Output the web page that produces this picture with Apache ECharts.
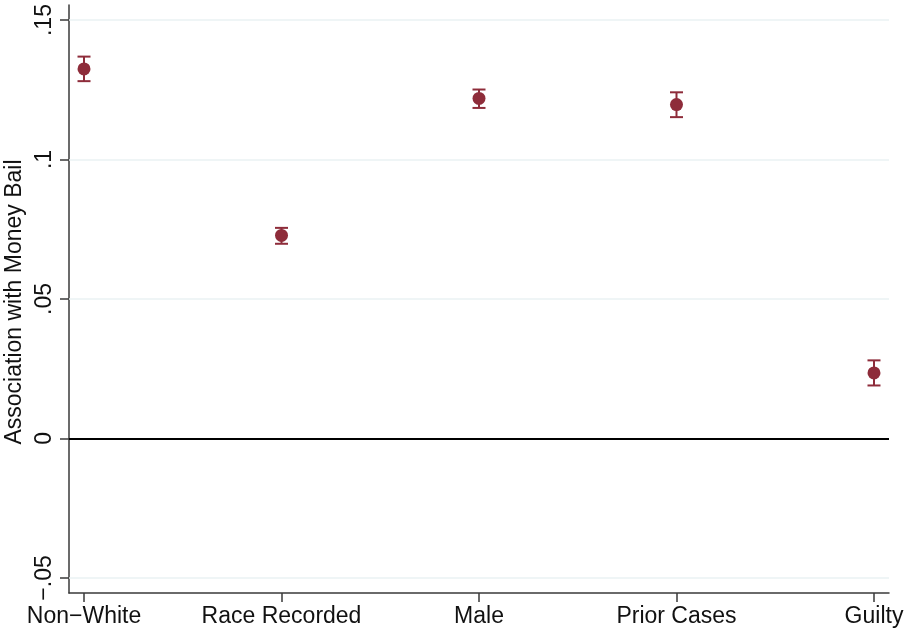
<!DOCTYPE html>
<html>
<head>
<meta charset="utf-8">
<script src="https://cdn.jsdelivr.net/npm/echarts@6/dist/echarts.min.js"></script>
<style>
  html, body { margin: 0; padding: 0; background: #fff; }
  #chart { width: 904px; height: 630px; }
</style>
</head>
<body>
<div id="chart"></div>
<script>
// Coefficients with 95% confidence intervals
const categories = ['Non\u2212White', 'Race Recorded', 'Male', 'Prior Cases', 'Guilty'];
const estimates = [0.1325, 0.0728, 0.1219, 0.1197, 0.0235];
const ciLower = [0.1281, 0.0698, 0.1185, 0.1152, 0.0190];
const ciUpper = [0.1369, 0.0755, 0.1251, 0.1241, 0.0280];
const yTicks = [-0.05, 0, 0.05, 0.1, 0.15];
const yTickLabels = ['\u2212.05', '0', '.05', '.1', '.15'];
const yTitle = 'Association with Money Bail';

const markColor = '#8E2C3A';
const axisColor = '#3a3a3a';
const gridColor = '#EAF2F3';
const font = '"Liberation Sans", Arial, Helvetica, sans-serif';

const xPos = categories.map((_, i) => i + 1);
const pointData = estimates.map((v, i) => [xPos[i], v]);
const ciData = estimates.map((_, i) => [xPos[i], ciLower[i], ciUpper[i]]);

const chart = echarts.init(document.getElementById('chart'), null, { renderer: 'canvas' });

chart.setOption({
  animation: false,
  backgroundColor: '#ffffff',
  grid: { left: 69, right: 15, top: 5, bottom: 37, containLabel: false, outerBoundsMode: 'none' },
  graphic: [{
    // vertical axis title
    type: 'text',
    x: 15,
    y: 302,
    rotation: Math.PI / 2,
    style: {
      text: yTitle,
      fill: '#111',
      font: '23px ' + font,
      align: 'center',
      verticalAlign: 'middle'
    }
  }],
  xAxis: {
    type: 'value',
    min: 0.924,
    max: 5.076,
    axisLine: { show: true, onZero: false, lineStyle: { color: axisColor, width: 1.5 } },
    axisTick: { show: true, length: 9, customValues: xPos, lineStyle: { color: axisColor, width: 1.5 } },
    axisLabel: {
      customValues: xPos,
      formatter: v => categories[Math.round(v) - 1] || '',
      color: '#111', fontSize: 23, fontFamily: font, margin: 12
    },
    splitLine: { show: false }
  },
  yAxis: {
    type: 'value',
    min: -0.0554,
    max: 0.1554,
    axisLine: { show: true, onZero: false, lineStyle: { color: axisColor, width: 1.5 } },
    axisTick: { show: true, length: 9, customValues: yTicks, lineStyle: { color: axisColor, width: 1.5 } },
    axisLabel: {
      customValues: yTicks,
      rotate: 90,
      formatter: v => {
        const k = yTicks.findIndex(t => Math.abs(t - v) < 1e-9);
        return k >= 0 ? yTickLabels[k] : '';
      },
      color: '#111', fontSize: 23, fontFamily: font, margin: 13
    },
    splitLine: { show: false }
  },
  series: [
    {
      // horizontal reference lines: light grid plus zero line
      type: 'line',
      data: [],
      silent: true,
      markLine: {
        symbol: 'none',
        silent: true,
        label: { show: false },
        data: yTicks.filter(t => t !== 0).map(t => ({ yAxis: t, lineStyle: { color: gridColor, width: 1.5, type: 'solid' } }))
          .concat([{ yAxis: 0, lineStyle: { color: '#000', width: 2, type: 'solid' } }])
      }
    },
    {
      type: 'custom',
      data: ciData,
      z: 3,
      renderItem: (params, api) => {
        const x = api.value(0);
        const lo = api.coord([x, api.value(1)]);
        const hi = api.coord([x, api.value(2)]);
        const half = 6.5;
        const style = { stroke: markColor, lineWidth: 2 };
        return {
          type: 'group',
          children: [
            { type: 'line', shape: { x1: lo[0], y1: lo[1], x2: hi[0], y2: hi[1] }, style },
            { type: 'line', shape: { x1: lo[0] - half, y1: lo[1], x2: lo[0] + half, y2: lo[1] }, style },
            { type: 'line', shape: { x1: hi[0] - half, y1: hi[1], x2: hi[0] + half, y2: hi[1] }, style }
          ]
        };
      }
    },
    {
      type: 'scatter',
      data: pointData,
      symbol: 'circle',
      symbolSize: 13,
      z: 4,
      itemStyle: { color: markColor, opacity: 1 }
    }
  ]
});
</script>
</body>
</html>
